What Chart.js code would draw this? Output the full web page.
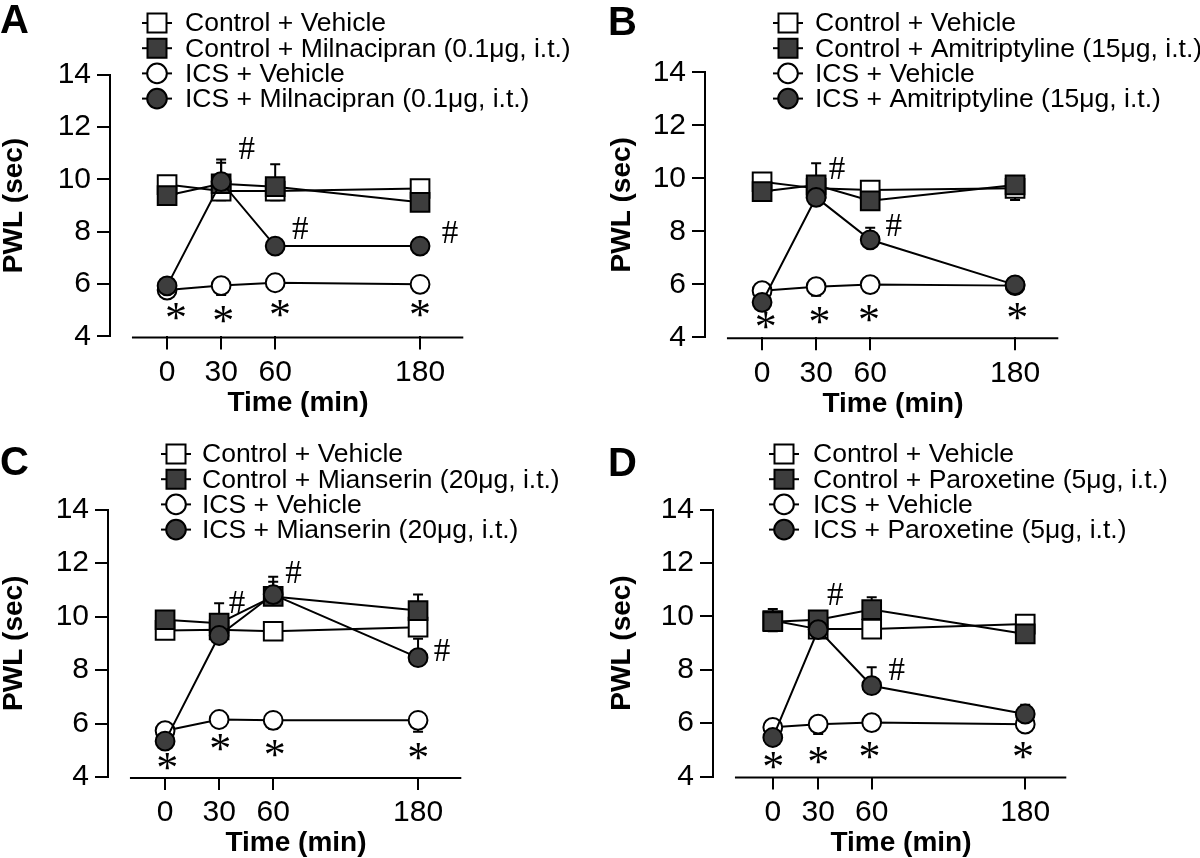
<!DOCTYPE html>
<html>
<head>
<meta charset="utf-8">
<title>PWL time course - four antidepressants</title>
<script src="https://cdn.jsdelivr.net/npm/chart.js@4.4.1/dist/chart.umd.min.js"></script>
<style>
    html, body { margin: 0; padding: 0; background: #ffffff; }
    #wrap { position: relative; width: 1200px; height: 858px; }
    #wrap canvas { position: absolute; }
</style>
</head>
<body>
<div id="wrap">
    <canvas id="panelA" width="600" height="429" style="left:0;top:0"></canvas>
    <canvas id="panelB" width="600" height="429" style="left:600px;top:0"></canvas>
    <canvas id="panelC" width="600" height="429" style="left:0;top:429px"></canvas>
    <canvas id="panelD" width="600" height="429" style="left:600px;top:429px"></canvas>
</div>
<script>
// Time points (min) and where they sit on the (non uniform) x axis
const timeLabels = ['0', '30', '60', '180'];
const timeSlots = [0, 1, 2, 4.68];
const timeSlotsD = [0.05, 0.89, 1.88, 4.72];

const seriesNames = ['Control + Vehicle', 'Control + {drug}', 'ICS + Vehicle', 'ICS + {drug}'];

// A - Milnacipran
const drugA = 'Milnacipran (0.1μg, i.t.)';
const ctrlVehA = [9.80, 9.55, 9.55, 9.65];
const ctrlDrugA = [9.38, 9.83, 9.72, 9.12];
const icsVehA = [5.77, 5.94, 6.05, 5.99];
const icsDrugA = [5.93, 9.91, 7.45, 7.45];
const errCtrlVehA = [0, -0.35, -0.35, 0];
const errCtrlDrugA = [0, 0.80, 0.86, 0];
const errIcsVehA = [-0.15, -0.36, 0, 0];
const errIcsDrugA = [0, 0.85, 0, 0];
const starsA = [[0.165, 4.94], [1.04, 4.82], [2.09, 5.07], [4.68, 5.07]];
const hashesA = [[1.47, 11.18], [2.46, 8.13], [5.23, 8.0]];

// B - Amitriptyline
const drugB = 'Amitriptyline (15μg, i.t.)';
const ctrlVehB = [9.87, 9.62, 9.56, 9.62];
const ctrlDrugB = [9.50, 9.75, 9.15, 9.75];
const icsVehB = [5.76, 5.91, 5.99, 5.95];
const icsDrugB = [5.32, 9.28, 7.68, 5.98];
const errCtrlVehB = [0.33, 0, 0, -0.44];
const errCtrlDrugB = [0, 0.82, 0, 0];
const errIcsVehB = [0, -0.34, 0, 0];
const errIcsDrugB = [0, 0, 0.45, 0.30];
const starsB = [[0.07, 4.62], [1.06, 4.81], [1.98, 4.90], [4.72, 4.97]];
const hashesB = [[1.38, 10.38], [2.43, 8.23]];

// C - Mianserin
const drugC = 'Mianserin (20μg, i.t.)';
const ctrlVehC = [9.48, 9.50, 9.45, 9.60];
const ctrlDrugC = [9.88, 9.75, 10.75, 10.22];
const icsVehC = [5.73, 6.15, 6.12, 6.12];
const icsDrugC = [5.34, 9.29, 10.82, 8.46];
const errCtrlVehC = [0, 0, 0, 0];
const errCtrlDrugC = [0.28, 0.75, 0.55, 0.60];
const errIcsVehC = [0, 0, -0.32, -0.43];
const errIcsDrugC = [0, 0, 0.67, 0.71];
const starsC = [[0.04, 4.57], [1.02, 5.28], [2.03, 5.07], [4.685, 4.94]];
const hashesC = [[1.325, 10.53], [2.37, 11.65], [5.12, 8.73]];

// D - Paroxetine
const drugD = 'Paroxetine (5μg, i.t.)';
const ctrlVehD = [9.84, 9.52, 9.52, 9.71];
const ctrlDrugD = [9.80, 9.87, 10.25, 9.34];
const icsVehD = [5.84, 5.96, 6.02, 5.96];
const icsDrugD = [5.46, 9.50, 7.40, 6.34];
const errCtrlVehD = [-0.40, 0, 0, 0];
const errCtrlDrugD = [0.47, 0, 0.46, 0];
const errIcsVehD = [0, -0.37, 0, -0.25];
const errIcsDrugD = [0, 0, 0.69, 0.35];
const starsD = [[0.06, 4.59], [0.89, 4.78], [1.84, 4.96], [4.68, 4.96]];
const hashesD = [[1.20, 10.84], [2.34, 8.03]];

const SANS = '"Liberation Sans", Arial, Helvetica, sans-serif';
const SERIF = '"Liberation Serif", "Times New Roman", serif';
const DARK = '#3d3d3d';
const PANEL_W = 600;
const PANEL_H = 429;

Chart.defaults.font.family = SANS;
Chart.defaults.color = '#000';

// Marker look per series (same order as seriesNames)
const markerKinds = [
    { fill: '#ffffff', style: 'rect' },
    { fill: DARK, style: 'rect' },
    { fill: '#ffffff', style: 'circle' },
    { fill: DARK, style: 'circle' }
];

// one-sided SEM bars, + goes up, - goes down
const errorBarPlugin = {
    id: 'errorBars',
    beforeDatasetsDraw(chart) {
        const { ctx, scales: { x, y } } = chart;
        ctx.save();
        ctx.strokeStyle = '#000';
        ctx.lineWidth = 2;
        chart.data.datasets.forEach(ds => {
            ds.data.forEach((pt, j) => {
                const e = ds.errors[j];
                if (!e) return;
                const px = x.getPixelForValue(pt.x);
                const y0 = y.getPixelForValue(pt.y);
                const y1 = y.getPixelForValue(pt.y + e);
                ctx.beginPath();
                ctx.moveTo(px, y0);
                ctx.lineTo(px, y1);
                ctx.moveTo(px - 5, y1);
                ctx.lineTo(px + 5, y1);
                ctx.stroke();
            });
        });
        ctx.restore();
    }
};

// detached x axis line
const baselinePlugin = {
    id: 'baseline',
    afterDraw(chart, args, opts) {
        const { ctx, scales: { x, y } } = chart;
        const py = y.getPixelForValue(4) + 1;
        ctx.save();
        ctx.strokeStyle = '#000';
        ctx.lineWidth = 2;
        ctx.beginPath();
        ctx.moveTo(x.getPixelForValue(opts.from), py);
        ctx.lineTo(x.getPixelForValue(opts.to), py);
        ctx.stroke();
        ctx.restore();
    }
};

function drawCentered(ctx, text, px, py) {
    const m = ctx.measureText(text);
    const x = px - (m.actualBoundingBoxRight - m.actualBoundingBoxLeft) / 2;
    const y = py + (m.actualBoundingBoxAscent - m.actualBoundingBoxDescent) / 2;
    ctx.fillText(text, x, y);
}

// significance marks (* vs control, # vs ICS + vehicle)
const marksPlugin = {
    id: 'marks',
    afterDatasetsDraw(chart, args, opts) {
        const { ctx, scales: { x, y } } = chart;
        ctx.save();
        ctx.fillStyle = '#000';
        ctx.textAlign = 'left';
        ctx.textBaseline = 'alphabetic';
        ctx.font = '44px ' + SERIF;
        opts.stars.forEach(s => drawCentered(ctx, '*', x.getPixelForValue(s[0]), y.getPixelForValue(s[1])));
        ctx.font = '33px ' + SERIF;
        opts.hashes.forEach(h => drawCentered(ctx, '#', x.getPixelForValue(h[0]), y.getPixelForValue(h[1])));
        ctx.restore();
    }
};

// line-through-marker legend plus the panel letter
const panelLegendPlugin = {
    id: 'panelLegend',
    afterDraw(chart, args, opts) {
        const { ctx } = chart;
        ctx.save();
        chart.data.datasets.forEach((ds, i) => {
            const cy = opts.y + i * 25.2;
            ctx.strokeStyle = '#000';
            ctx.lineWidth = 2;
            ctx.beginPath();
            ctx.moveTo(opts.markerX - 15, cy);
            ctx.lineTo(opts.markerX + 15, cy);
            ctx.stroke();
            ctx.fillStyle = ds.pointBackgroundColor;
            ctx.beginPath();
            if (ds.pointStyle === 'rect') {
                ctx.rect(opts.markerX - 9.5, cy - 9.5, 19, 19);
            } else {
                ctx.arc(opts.markerX, cy, 9.8, 0, Math.PI * 2);
            }
            ctx.fill();
            ctx.stroke();
            ctx.fillStyle = '#000';
            ctx.font = '26.5px ' + SANS;
            ctx.textAlign = 'left';
            ctx.textBaseline = 'middle';
            ctx.fillText(ds.label, opts.textX, cy + 1);
        });
        ctx.font = 'bold 40px ' + SANS;
        ctx.textBaseline = 'alphabetic';
        ctx.fillText(opts.letter, opts.letterX, opts.letterY);
        ctx.restore();
    }
};

const panels = [
    {
        id: 'panelA', letter: 'A', drug: drugA, slots: timeSlots,
        series: [ctrlVehA, ctrlDrugA, icsVehA, icsDrugA],
        errors: [errCtrlVehA, errCtrlDrugA, errIcsVehA, errIcsDrugA],
        stars: starsA, hashes: hashesA,
        frame: { axisX: 110, top: 74.6, bottom: 336.4, xTitlePad: 12, yTitlePad: 0,
                 markerX: 157, textX: 185, legendY: 23, letterX: 0, letterY: 33 }
    },
    {
        id: 'panelB', letter: 'B', drug: drugB, slots: timeSlots,
        series: [ctrlVehB, ctrlDrugB, icsVehB, icsDrugB],
        errors: [errCtrlVehB, errCtrlDrugB, errIcsVehB, errIcsDrugB],
        stars: starsB, hashes: hashesB,
        frame: { axisX: 105, top: 72.3, bottom: 337.3, xTitlePad: 11, yTitlePad: 8,
                 markerX: 188, textX: 215, legendY: 23, letterX: 8, letterY: 35 }
    },
    {
        id: 'panelC', letter: 'C', drug: drugC, slots: timeSlots,
        series: [ctrlVehC, ctrlDrugC, icsVehC, icsDrugC],
        errors: [errCtrlVehC, errCtrlDrugC, errIcsVehC, errIcsDrugC],
        stars: starsC, hashes: hashesC,
        frame: { axisX: 108, top: 80.5, bottom: 348, xTitlePad: 1, yTitlePad: 0,
                 markerX: 176, textX: 202, legendY: 25, letterX: 0, letterY: 46 }
    },
    {
        id: 'panelD', letter: 'D', drug: drugD, slots: timeSlotsD,
        series: [ctrlVehD, ctrlDrugD, icsVehD, icsDrugD],
        errors: [errCtrlVehD, errCtrlDrugD, errIcsVehD, errIcsDrugD],
        stars: starsD, hashes: hashesD,
        frame: { axisX: 113, top: 80.5, bottom: 347.5, xTitlePad: 1, yTitlePad: 8,
                 markerX: 184, textX: 213, legendY: 25, letterX: 8, letterY: 47 }
    }
];

function buildPanel(p) {
    const f = p.frame;
    const datasets = p.series.map((vals, i) => ({
        label: seriesNames[i].replace('{drug}', p.drug),
        data: vals.map((v, j) => ({ x: p.slots[j], y: v })),
        errors: p.errors[i],
        borderColor: '#000',
        borderWidth: 2,
        backgroundColor: markerKinds[i].fill,
        pointStyle: markerKinds[i].style,
        pointRadius: markerKinds[i].style === 'rect' ? 13.2 : 9.4,
        pointBorderWidth: 2,
        pointBackgroundColor: markerKinds[i].fill,
        pointBorderColor: '#000',
        tension: 0,
        fill: false,
        order: 3 - i
    }));

    return new Chart(document.getElementById(p.id), {
        type: 'line',
        data: { datasets: datasets },
        options: {
            responsive: false,
            animation: false,
            events: [],
            layout: {
                padding: { left: 0, top: f.top, right: PANEL_W - f.axisX - 376, bottom: 0 }
            },
            plugins: {
                legend: { display: false },
                tooltip: { enabled: false },
                baseline: { from: -0.65, to: 5.48 },
                marks: { stars: p.stars, hashes: p.hashes },
                panelLegend: { letter: p.letter, markerX: f.markerX, textX: f.textX, y: f.legendY,
                               letterX: f.letterX, letterY: f.letterY }
            },
            scales: {
                x: {
                    type: 'linear',
                    min: -1.056,
                    max: 5.9,
                    afterBuildTicks: axis => { axis.ticks = p.slots.map(v => ({ value: v })); },
                    afterFit: axis => { axis.height = PANEL_H - f.bottom; },
                    border: { display: false },
                    grid: { drawOnChartArea: false, drawTicks: true, tickLength: 13, lineWidth: 2, color: '#000' },
                    ticks: {
                        autoSkip: false,
                        maxRotation: 0,
                        padding: 5,
                        color: '#000',
                        font: { family: SANS, size: 30 },
                        callback: (v, i) => timeLabels[i]
                    },
                    title: {
                        display: true,
                        text: 'Time (min)',
                        color: '#000',
                        font: { family: SANS, size: 28, weight: 'bold', lineHeight: 1 },
                        padding: { top: 0, bottom: f.xTitlePad }
                    }
                },
                y: {
                    min: 4,
                    max: 14,
                    afterFit: axis => { axis.width = f.axisX; },
                    border: { display: true, color: '#000', width: 2 },
                    grid: { drawOnChartArea: false, tickLength: 13, lineWidth: 2, color: '#000' },
                    ticks: {
                        stepSize: 2,
                        padding: 6,
                        color: '#000',
                        font: { family: SANS, size: 30 }
                    },
                    title: {
                        display: true,
                        text: 'PWL (sec)',
                        color: '#000',
                        font: { family: SANS, size: 28, weight: 'bold', lineHeight: 1 },
                        padding: { top: f.yTitlePad, bottom: 0 }
                    }
                }
            }
        },
        plugins: [errorBarPlugin, baselinePlugin, marksPlugin, panelLegendPlugin]
    });
}

panels.forEach(buildPanel);
</script>
</body>
</html>
